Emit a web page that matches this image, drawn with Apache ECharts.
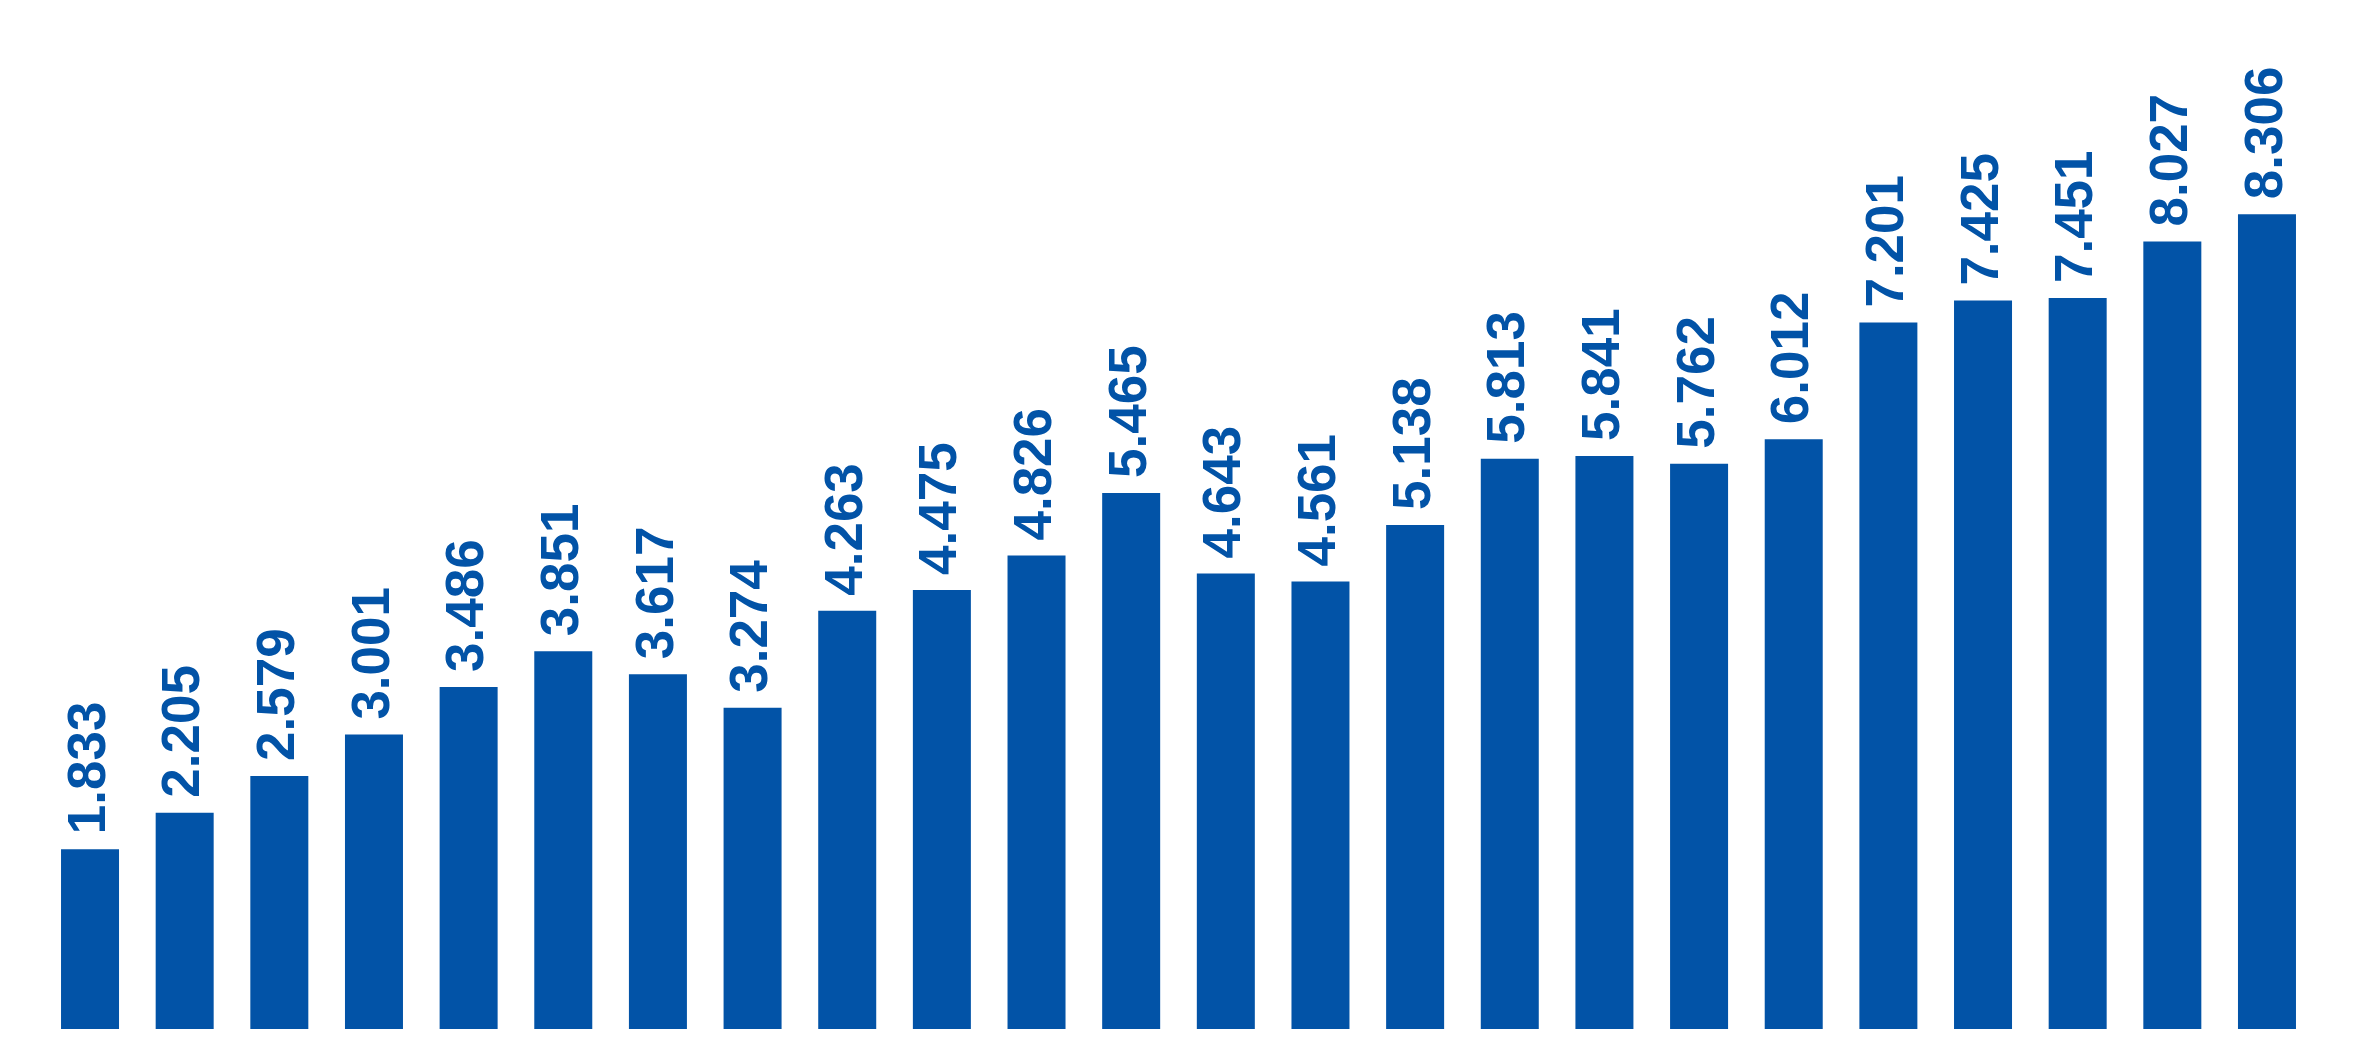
<!DOCTYPE html>
<html>
<head>
<meta charset="utf-8">
<script src="https://cdn.jsdelivr.net/npm/echarts@6/dist/echarts.min.js"></script>
<style>
html,body{margin:0;padding:0;background:#fff;}
#chart{width:2353px;height:1040px;}
</style>
</head>
<body>
<div id="chart"></div>
<script>
const categories = ["1","2","3","4","5","6","7","8","9","10","11","12","13","14","15","16","17","18","19","20","21","22","23","24"];
const values = [1.833, 2.205, 2.579, 3.001, 3.486, 3.851, 3.617, 3.274, 4.263, 4.475, 4.826, 5.465, 4.643, 4.561, 5.138, 5.813, 5.841, 5.762, 6.012, 7.201, 7.425, 7.451, 8.027, 8.306];

const chart = echarts.init(document.getElementById('chart'));
chart.setOption({
  animation: false,
  backgroundColor: '#ffffff',
  grid: { left: 42.7, right: 38.7, top: 48, bottom: 11 },
  xAxis: {
    type: 'category',
    data: categories,
    show: false
  },
  yAxis: {
    type: 'value',
    min: 0,
    max: 10,
    show: false,
    splitLine: { show: false }
  },
  series: [{
    type: 'bar',
    data: values,
    barWidth: 58,
    itemStyle: { color: '#0253A7' },
    label: {
      show: true,
      position: 'top',
      rotate: 90,
      align: 'left',
      verticalAlign: 'middle',
      distance: 15,
      color: '#0253A7',
      fontFamily: 'Liberation Sans',
      fontWeight: 'bold',
      fontSize: 53,
      formatter: p => p.value.toFixed(3)
    }
  }]
});
</script>
</body>
</html>
